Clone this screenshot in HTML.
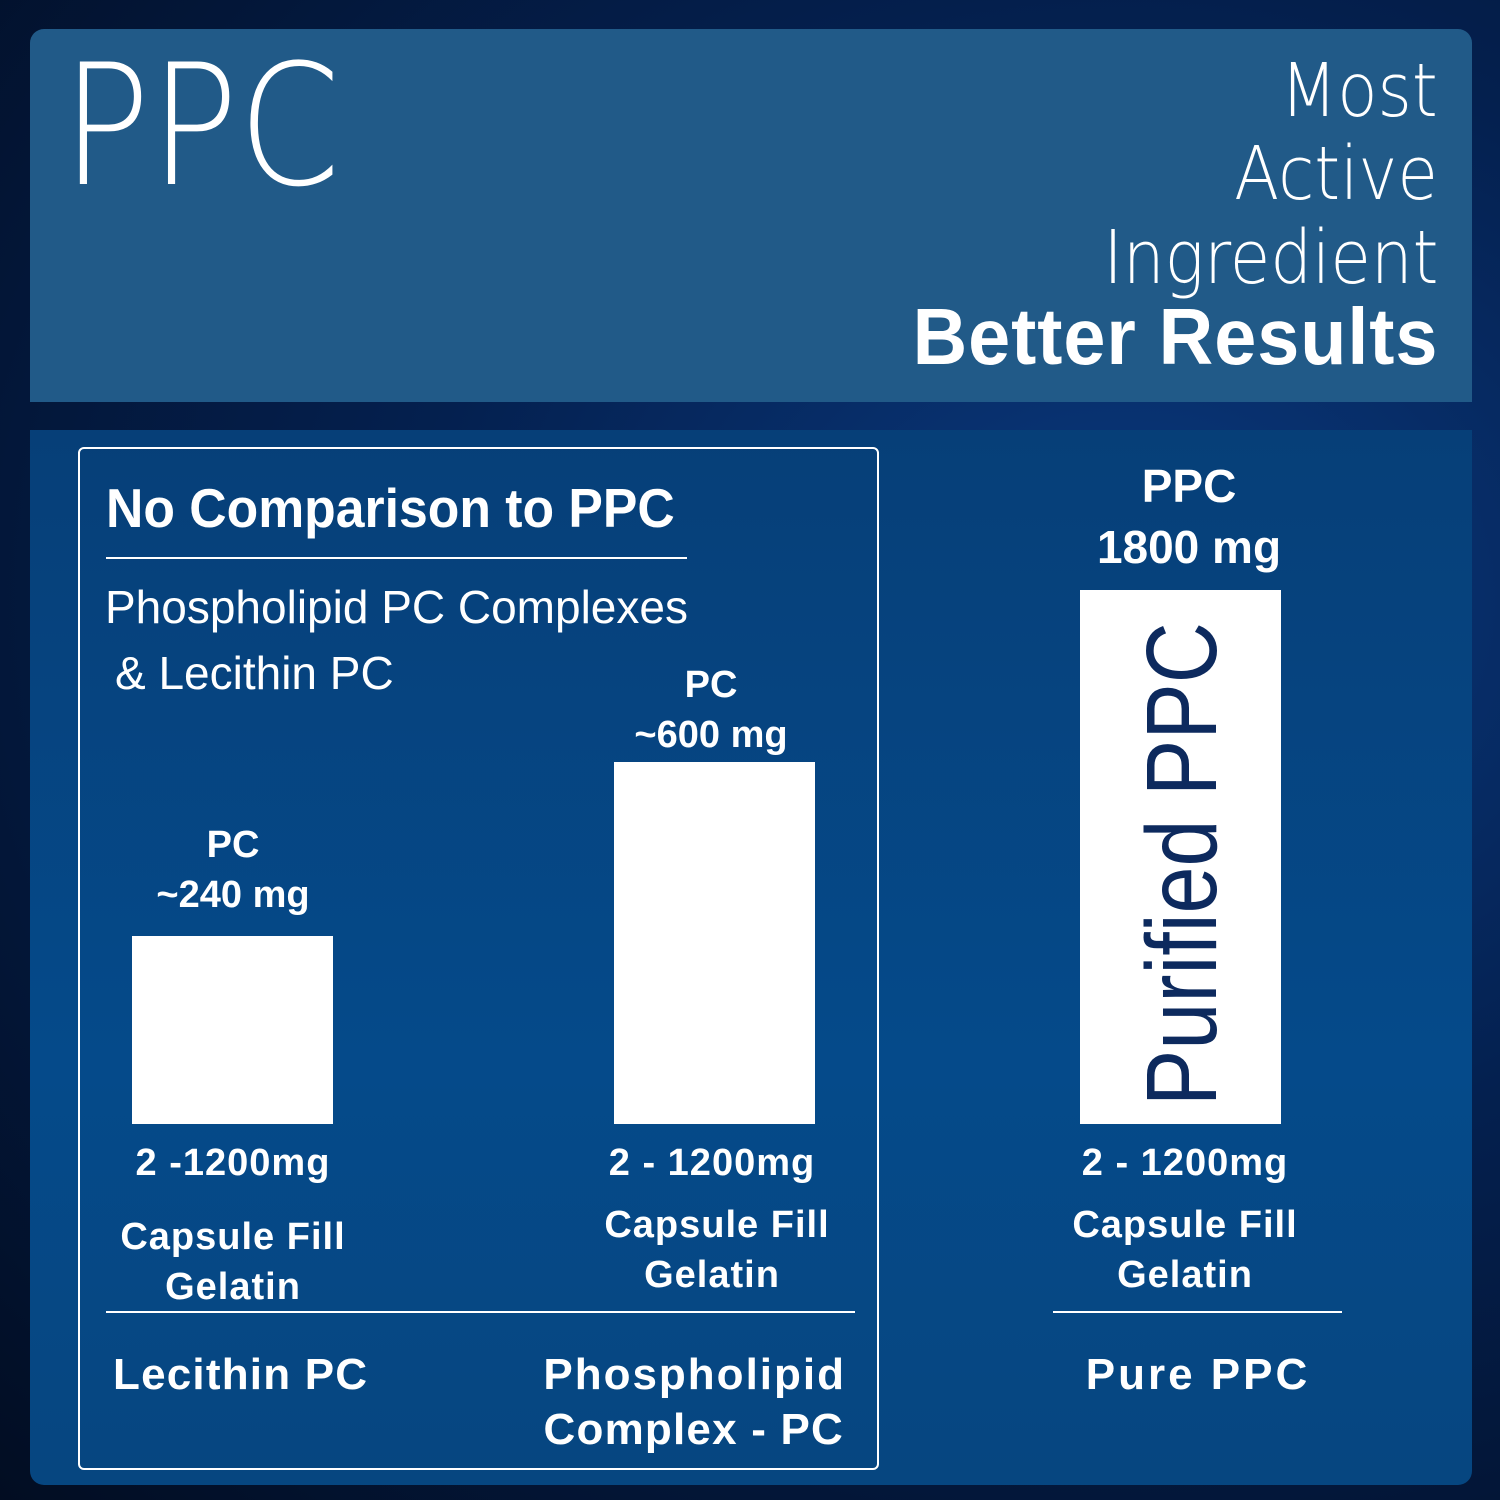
<!DOCTYPE html>
<html><head><style>
html,body{margin:0;padding:0}
body{width:1500px;height:1500px;position:relative;overflow:hidden;background:radial-gradient(ellipse at 75% 40%,#0a3a80 0%,#04204f 45%,#020d22 100%);font-family:"Liberation Sans",sans-serif;color:#fff}
.a{position:absolute;line-height:1;white-space:nowrap}
.b{font-weight:bold}
.c{transform:translateX(-50%)}
.bar{position:absolute;background:#fff}
.ln{position:absolute;height:2px;background:#fff}
.t{font-family:'DejaVu Sans',sans-serif;font-weight:200}
</style></head><body>
<div style="position:absolute;left:30px;top:29px;width:1442px;height:373px;background:#215a88;border-radius:14px 14px 0 0"></div>
<div style="position:absolute;left:30px;top:430px;width:1442px;height:1055px;background:linear-gradient(180deg,#063f78,#054a8a 60%,#064680);border-radius:0 0 14px 14px"></div>
<div style="position:absolute;left:78px;top:447px;width:797px;height:1019px;border:2px solid #fff;border-radius:6px"></div>

<div class="a t" style="left:62px;top:42px;font-size:168px;transform-origin:0 0;transform:scaleX(0.87)">PPC</div>
<div class="a t" style="right:62px;top:54px;font-size:74px;transform-origin:100% 0;transform:scaleX(0.89)">Most</div>
<div class="a t" style="right:62px;top:137px;font-size:74px;transform-origin:100% 0;transform:scaleX(0.89)">Active</div>
<div class="a t" style="right:62px;top:221px;font-size:74px;transform-origin:100% 0;transform:scaleX(0.89)">Ingredient</div>
<div class="a b" style="right:62px;top:297px;font-size:80px;letter-spacing:1px;transform-origin:100% 0;transform:scaleX(0.945)">Better Results</div>

<div class="a b" style="left:106px;top:481px;font-size:55px;transform-origin:0 0;transform:scaleX(0.94)">No Comparison to PPC</div>
<div class="ln" style="left:106px;top:557px;width:581px"></div>
<div class="a" style="left:105px;top:584px;font-size:46px">Phospholipid PC Complexes</div>
<div class="a" style="left:115px;top:650px;font-size:46px">&amp; Lecithin PC</div>

<div class="bar" style="left:132px;top:936px;width:201px;height:188px"></div>
<div class="bar" style="left:614px;top:762px;width:201px;height:362px"></div>
<div class="bar" style="left:1080px;top:590px;width:201px;height:534px"></div>
<div class="a" style="left:1132px;top:1106px;font-size:100px;color:#0d2a5e;transform-origin:0 0;transform:rotate(-90deg) scaleX(0.845)">Purified PPC</div>

<div class="a b c" style="left:233px;top:826px;font-size:38px">PC</div>
<div class="a b c" style="left:233px;top:876px;font-size:38px">~240 mg</div>
<div class="a b c" style="left:711px;top:666px;font-size:38px">PC</div>
<div class="a b c" style="left:711px;top:716px;font-size:38px">~600 mg</div>
<div class="a b c" style="left:1189px;top:463px;font-size:46px">PPC</div>
<div class="a b c" style="left:1189px;top:524px;font-size:46px">1800 mg</div>

<div class="a b c" style="left:233px;top:1144px;font-size:38px;letter-spacing:1px">2 -1200mg</div>
<div class="a b c" style="left:233px;top:1218px;font-size:38px;letter-spacing:1px">Capsule Fill</div>
<div class="a b c" style="left:233px;top:1268px;font-size:38px;letter-spacing:1px">Gelatin</div>
<div class="a b c" style="left:712px;top:1144px;font-size:38px;letter-spacing:1px">2 - 1200mg</div>
<div class="a b c" style="left:717px;top:1206px;font-size:38px;letter-spacing:1px">Capsule Fill</div>
<div class="a b c" style="left:712px;top:1256px;font-size:38px;letter-spacing:1px">Gelatin</div>
<div class="a b c" style="left:1185px;top:1144px;font-size:38px;letter-spacing:1px">2 - 1200mg</div>
<div class="a b c" style="left:1185px;top:1206px;font-size:38px;letter-spacing:1px">Capsule Fill</div>
<div class="a b c" style="left:1185px;top:1256px;font-size:38px;letter-spacing:1px">Gelatin</div>

<div class="ln" style="left:106px;top:1311px;width:749px"></div>
<div class="ln" style="left:1053px;top:1311px;width:289px"></div>

<div class="a b" style="left:113px;top:1353px;font-size:44px;letter-spacing:1.2px">Lecithin PC</div>
<div class="a b" style="right:654px;top:1353px;font-size:44px;letter-spacing:2px">Phospholipid</div>
<div class="a b" style="right:656px;top:1408px;font-size:44px;letter-spacing:1.2px">Complex - PC</div>
<div class="a b c" style="left:1198px;top:1353px;font-size:44px;letter-spacing:3px">Pure PPC</div>
</body></html>
